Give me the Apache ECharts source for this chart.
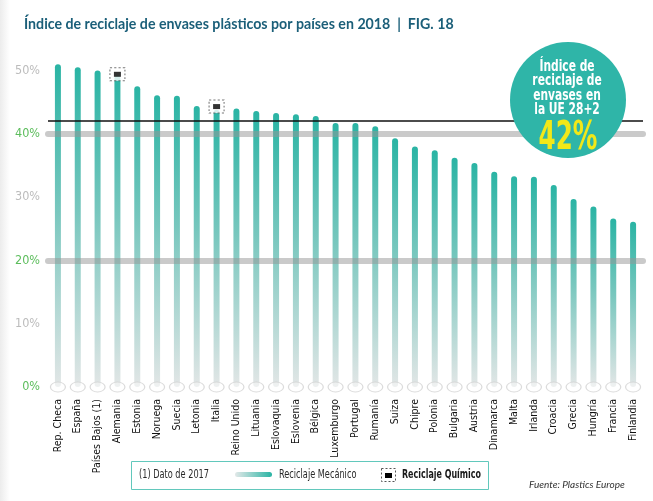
<!DOCTYPE html>
<html><head><meta charset="utf-8">
<script src="https://cdn.jsdelivr.net/npm/echarts@6/dist/echarts.min.js"></script>
<style>html,body{margin:0;padding:0;background:#fff}#c{width:653px;height:501px}</style>
</head><body><div id="c"></div>
<script>
const categories = ['Rep. Checa','España','Países Bajos (1)','Alemania','Estonia','Noruega','Suecia','Letonia','Italia','Reino Unido','Lituania','Eslovaquia','Eslovenia','Bélgica','Luxemburgo','Portugal','Rumanía','Suiza','Chipre','Polonia','Bulgaria','Austria','Dinamarca','Malta','Irlanda','Croacia','Grecia','Hungría','Francia','Finlandia'];
const mechanical = [51.0,50.5,50.0,49.2,47.5,46.1,46.0,44.4,43.8,44.0,43.6,43.3,43.1,42.8,41.7,41.7,41.2,39.3,38.0,37.4,36.2,35.4,34.0,33.3,33.2,31.9,29.7,28.5,26.6,26.1];
const chemical = [null,null,null,49.4,null,null,null,null,44.3,null,null,null,null,null,null,null,null,null,null,null,null,null,null,null,null,null,null,null,null,null];
const euAverage = 42;
const yTickValues = [0,10,20,30,40,50];
const bandLines = [40,20];

const NARROW = '"Liberation Sans Narrow","DejaVu Sans Condensed",sans-serif';
const chart = echarts.init(document.getElementById('c'));
chart.setOption({
  animation:false,
  backgroundColor:'#fff',
  title:{
    text:'Índice de reciclaje de envases plásticos por países en 2018  |  FIG. 18',
    left:19, top:12,
    textStyle:{fontFamily:'Lato',fontWeight:'bold',fontSize:14.2,color:'#1b5f79'}
  },
  grid:{left:48,right:10,top:387-55*6.33,bottom:114},
  xAxis:{
    type:'category', data:categories,
    axisLine:{show:false}, axisTick:{show:false},
    axisLabel:{rotate:90, interval:0, margin:12, fontFamily:NARROW, fontSize:10.5, color:'#111'}
  },
  yAxis:{
    type:'value', min:0, max:55, interval:5,
    splitLine:{show:false}, axisLine:{show:false}, axisTick:{show:false},
    axisLabel:{
      margin:8, fontFamily:NARROW, fontSize:12.5,
      formatter:v=> yTickValues.includes(v) ? v+'%' : '',
      color:v=> (v%20===0) ? '#5cbd5c' : '#bcbcbc'
    }
  },
  series:[
    {
      type:'bar', data:mechanical, barWidth:6, z:2,
      itemStyle:{
        borderRadius:[3,3,3,3],
        color:new echarts.graphic.LinearGradient(0,0,0,1,[
          {offset:0,color:'#2ab4a4'},{offset:0.45,color:'#78c7be'},{offset:1,color:'#e2e6e6'}])
      },
      markLine:{
        silent:true, symbol:'none', label:{show:false}, z:5,
        data:[
          ...bandLines.map(v=>({yAxis:v, lineStyle:{color:'rgba(150,150,150,0.5)', width:6, type:'solid', cap:'round'}})),
          {yAxis:euAverage, lineStyle:{color:'#111', width:1.5, type:'solid'}}
        ]
      }
    },
    {
      type:'scatter', data:categories.map(()=>0), symbol:'circle', symbolSize:[15,10], z:3,
      itemStyle:{color:'rgba(255,255,255,0.55)', borderColor:'#d2d2d2', borderWidth:1}, silent:true
    },
    {
      type:'scatter', data:chemical, symbol:'rect', symbolSize:[15,13], z:6,
      itemStyle:{color:'#fff', borderColor:'#555', borderWidth:1, borderType:[2,2]}
    },
    {
      type:'scatter', data:chemical, symbol:'rect', symbolSize:[7,5], z:7,
      itemStyle:{color:'#000'}
    }
  ],
  graphic:[
    {type:'rect', left:0, top:0, z:0, shape:{width:10,height:501},
     style:{fill:new echarts.graphic.LinearGradient(0,0,1,0,[{offset:0,color:'#ececec'},{offset:1,color:'#ffffff'}])}},
    {type:'circle', shape:{cx:568, cy:100, r:58}, z:50, style:{fill:'#2fb5a8'}},
    {type:'text', z:51, x:567, y:59, scaleX:0.72, style:{text:'Índice de\nreciclaje de\nenvases en\nla UE 28+2', fill:'#fff', font:'bold 16.5px '+NARROW, align:'center', lineHeight:14.6}},
    {type:'text', z:51, x:568, y:119, scaleX:0.7, style:{text:'42%', fill:'#f2e817', font:'bold 39px '+NARROW, align:'center'}},
    {type:'rect', z:20, shape:{x:131.5, y:461.5, width:357, height:28}, style:{fill:'#fff', stroke:'#62c8bc', lineWidth:1}},
    {type:'text', z:21, x:139, y:468, scaleX:0.7, style:{text:'(1) Dato de 2017', fill:'#2a2a2a', font:'13px '+NARROW}},
    {type:'rect', z:21, shape:{x:235, y:472, width:37, height:5, r:2.5},
     style:{fill:new echarts.graphic.LinearGradient(0,0,1,0,[{offset:0,color:'#e2e8e8'},{offset:1,color:'#2ab4a4'}])}},
    {type:'text', z:21, x:279, y:468, scaleX:0.7, style:{text:'Reciclaje Mecánico', fill:'#2a2a2a', font:'13px '+NARROW}},
    {type:'rect', z:21, shape:{x:381.5, y:468.5, width:14, height:13}, style:{fill:'#fff', stroke:'#555', lineWidth:1, lineDash:[2,2]}},
    {type:'rect', z:22, shape:{x:385, y:473, width:7, height:5}, style:{fill:'#000'}},
    {type:'text', z:21, x:402, y:468, scaleX:0.68, style:{text:'Reciclaje Químico', fill:'#1a1a1a', font:'bold 13px '+NARROW}},
    {type:'text', z:21, x:529, y:480, style:{text:'Fuente: Plastics Europe', fill:'#333', font:'italic 10px Lato'}}
  ]
});
</script></body></html>
